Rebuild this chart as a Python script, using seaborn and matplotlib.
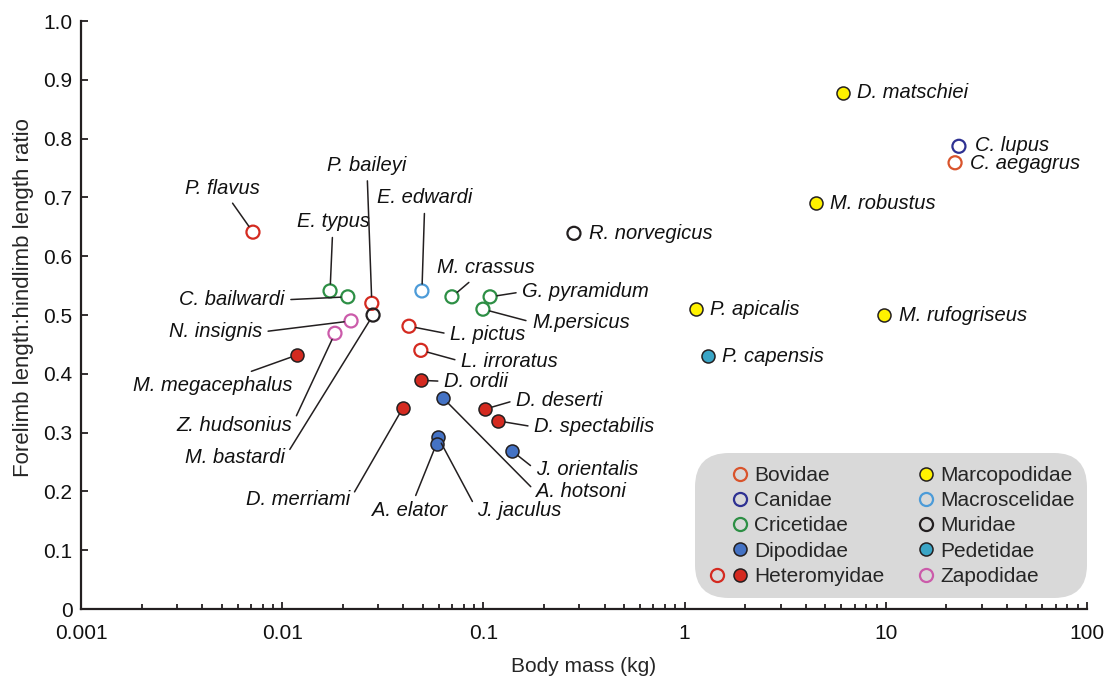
import numpy as np
import pandas as pd
import matplotlib.pyplot as plt
from matplotlib.lines import Line2D
from matplotlib.legend_handler import HandlerTuple
import seaborn as sns

sns.set_theme(style="ticks")
plt.rcParams['font.family'] = ['Liberation Sans', 'DejaVu Sans']

# data
species = ["D. matschiei", "C. lupus", "C. aegagrus", "M. robustus", "R. norvegicus",
           "P. apicalis", "M. rufogriseus", "P. capensis", "P. flavus", "E. typus",
           "C. bailwardi", "P. baileyi", "M. bastardi", "N. insignis", "Z. hudsonius",
           "M. megacephalus", "E. edwardi", "M. crassus", "G. pyramidum", "M.persicus",
           "L. pictus", "L. irroratus", "D. ordii", "D. merriami", "A. hotsoni",
           "J. jaculus", "A. elator", "D. deserti", "D. spectabilis", "J. orientalis"]
family = ["Marcopodidae", "Canidae", "Bovidae", "Marcopodidae", "Muridae",
          "Marcopodidae", "Marcopodidae", "Pedetidae", "Heteromyidae", "Cricetidae",
          "Cricetidae", "Heteromyidae", "Muridae", "Zapodidae", "Zapodidae",
          "Heteromyidae", "Macroscelidae", "Cricetidae", "Cricetidae", "Cricetidae",
          "Heteromyidae", "Heteromyidae", "Heteromyidae", "Heteromyidae", "Dipodidae",
          "Dipodidae", "Dipodidae", "Heteromyidae", "Heteromyidae", "Dipodidae"]
mass = [6.12, 23.1, 22.1, 4.5, 0.282,
        1.14, 9.8, 1.31, 0.00716, 0.0173,
        0.0212, 0.0279, 0.0283, 0.022, 0.0183,
        0.01185, 0.0495, 0.0698, 0.108, 0.0995,
        0.0427, 0.0489, 0.0489, 0.0398, 0.063,
        0.0595, 0.0585, 0.1018, 0.1182, 0.1387]
ratio = [0.878, 0.787, 0.759, 0.69, 0.639,
         0.51, 0.50, 0.43, 0.641, 0.541,
         0.531, 0.52, 0.50, 0.49, 0.469,
         0.432, 0.541, 0.531, 0.531, 0.51,
         0.481, 0.44, 0.389, 0.342, 0.359,
         0.2925, 0.281, 0.34, 0.32, 0.269]
filled = [1, 0, 0, 1, 0,
          1, 1, 1, 0, 0,
          0, 0, 0, 0, 0,
          1, 0, 0, 0, 0,
          0, 0, 1, 1, 1,
          1, 1, 1, 1, 1]

families = ["Bovidae", "Canidae", "Cricetidae", "Dipodidae", "Heteromyidae",
            "Marcopodidae", "Macroscelidae", "Muridae", "Pedetidae", "Zapodidae"]
colors = {"Bovidae": "#D9542C", "Canidae": "#2E3192", "Cricetidae": "#2D8F45",
          "Dipodidae": "#4472C4", "Heteromyidae": "#D42A20", "Marcopodidae": "#FFF200",
          "Macroscelidae": "#4C9BD8", "Muridae": "#231F20", "Pedetidae": "#3AA5C6",
          "Zapodidae": "#CB5BAA"}

xticks = [0.001, 0.01, 0.1, 1, 10, 100]
xticklabels = ["0.001", "0.01", "0.1", "1", "10", "100"]
yticks = [0, 0.1, 0.2, 0.3, 0.4, 0.5, 0.6, 0.7, 0.8, 0.9, 1.0]
yticklabels = ["0", "0.1", "0.2", "0.3", "0.4", "0.5", "0.6", "0.7", "0.8", "0.9", "1.0"]

df = pd.DataFrame({"species": species, "family": family, "mass": mass,
                   "ratio": ratio, "filled": filled})

# label placement: offset in pixels (dx, dy), alignment, leader line
labels = {
    "D. matschiei": (14, 0, "left", False),
    "C. lupus": (16, 1, "left", False),
    "C. aegagrus": (15, -1, "left", False),
    "M. robustus": (14, 0, "left", False),
    "R. norvegicus": (15, 0, "left", False),
    "P. apicalis": (14, 0, "left", False),
    "M. rufogriseus": (15, 0, "left", False),
    "P. capensis": (14, 0, "left", False),
    "P. flavus": (-31, 44, "center", True),
    "E. typus": (3, 69, "center", True),
    "P. baileyi": (-5, 138, "center", True),
    "E. edwardi": (3, 93, "center", True),
    "M. crassus": (34, 29, "center", True),
    "C. bailwardi": (-63, -3, "right", True),
    "N. insignis": (-89, -11, "right", True),
    "M. megacephalus": (-84, -30, "center", True),
    "Z. hudsonius": (-43, -92, "right", True),
    "M. bastardi": (-88, -142, "right", True),
    "D. merriami": (-53, -92, "right", True),
    "A. elator": (-27, -67, "center", True),
    "J. jaculus": (39, -73, "left", True),
    "A. hotsoni": (93, -94, "left", True),
    "J. orientalis": (24, -19, "left", True),
    "D. spectabilis": (36, -6, "left", True),
    "D. deserti": (31, 9, "left", True),
    "D. ordii": (23, -1, "left", True),
    "L. irroratus": (40, -11, "left", True),
    "L. pictus": (41, -8, "left", True),
    "M.persicus": (49, -13, "left", True),
    "G. pyramidum": (32, 5, "left", True),
}

fig, ax = plt.subplots(figsize=(11.12, 6.79), dpi=100)
fig.subplots_adjust(left=0.0728, right=0.9775, bottom=0.103, top=0.969)

ink = "#231F20"
msize = 88
for fam in families:
    sub = df[df.family == fam]
    op = sub[sub.filled == 0]
    fl = sub[sub.filled == 1]
    if len(op):
        sns.scatterplot(data=op, x="mass", y="ratio", s=msize, facecolor="none",
                        edgecolor=colors[fam], linewidth=1.6, ax=ax, legend=False, zorder=3)
    if len(fl):
        sns.scatterplot(data=fl, x="mass", y="ratio", s=msize, facecolor=colors[fam],
                        edgecolor=ink, linewidth=1.1, ax=ax, legend=False, zorder=3)

for _, r in df.iterrows():
    dx, dy, ha, line = labels[r.species]
    kw = {}
    if line:
        rel = {"left": (0, 0.5), "right": (1, 0.5), "center": (0.5, 0.5)}[ha]
        kw["arrowprops"] = dict(arrowstyle="-", color=ink, lw=1.1, shrinkA=2,
                                shrinkB=5, relpos=rel)
    ax.annotate(r.species, xy=(r.mass, r.ratio), xytext=(dx, dy),
                textcoords="offset pixels", ha=ha, va="center",
                fontsize=14.5, style="italic", color="#111111", zorder=4, **kw)

ax.set_xscale("log")
ax.set_xlim(0.001, 100)
ax.set_ylim(0, 1.0)
ax.set_xticks(xticks)
ax.set_xticklabels(xticklabels)
ax.set_yticks(yticks)
ax.set_yticklabels(yticklabels)
ax.tick_params(axis="both", which="major", direction="in", length=5, width=1.3,
               labelsize=15, colors=ink, labelcolor="#111111")
ax.tick_params(axis="x", which="major", pad=11)
ax.tick_params(axis="y", which="major", pad=6)
ax.tick_params(axis="x", which="minor", direction="in", length=3.5, width=1.3, colors=ink)
for s in ["top", "right"]:
    ax.spines[s].set_visible(False)
for s in ["left", "bottom"]:
    ax.spines[s].set_linewidth(1.6)
    ax.spines[s].set_color(ink)
ax.set_xlabel("Body mass (kg)", fontsize=15)
ax.set_ylabel("Forelimb length:hindlimb length ratio", fontsize=16)
ax.xaxis.set_label_coords(0.5, -0.081)
ax.yaxis.set_label_coords(-0.047, 0.529)

# legend
blank = Line2D([], [], linestyle="none", marker="o", markersize=9.4, alpha=0)
handles = []
for fam in families:
    if fam in ("Marcopodidae", "Dipodidae", "Pedetidae"):
        h = Line2D([], [], linestyle="none", marker="o", markersize=9.4,
                   markerfacecolor=colors[fam], markeredgecolor=ink, markeredgewidth=1.1)
    else:
        h = Line2D([], [], linestyle="none", marker="o", markersize=9.4,
                   markerfacecolor="none", markeredgecolor=colors[fam], markeredgewidth=1.6)
    if fam == "Heteromyidae":
        h2 = Line2D([], [], linestyle="none", marker="o", markersize=9.4,
                    markerfacecolor=colors[fam], markeredgecolor=ink, markeredgewidth=1.1)
        handles.append((h, h2))
    else:
        handles.append((blank, h))

leg = ax.legend(handles, families, ncol=2, loc="lower right",
                bbox_to_anchor=(1.0, 0.018), fontsize=15, frameon=True,
                handler_map={tuple: HandlerTuple(ndivide=None, pad=0.2)},
                handlelength=2.0, handletextpad=0.22, columnspacing=0.45,
                labelspacing=0.3, borderpad=0.6, borderaxespad=0)
frame = leg.get_frame()
frame.set_facecolor("#D9D9D9")
frame.set_edgecolor("none")
frame.set_alpha(1)
frame.set_boxstyle("round", pad=0, rounding_size=1.6)

fig.savefig("out.png", dpi=100)
